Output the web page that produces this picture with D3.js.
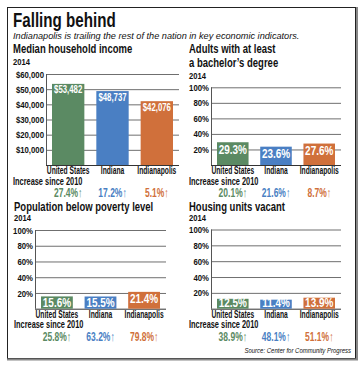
<!DOCTYPE html>
<html>
<head>
<meta charset="utf-8">
<script src="https://cdn.jsdelivr.net/npm/d3@7"></script>
<style>
  body { margin: 0; background: #fff; }
  svg { display: block; font-family: "Liberation Sans", Arial, sans-serif; }
</style>
</head>
<body>
<svg id="chart" width="361" height="366"></svg>
<script>
// data
const categories = ["United States", "Indiana", "Indianapolis"];
const colors = ["#5b8a63", "#4a7fc3", "#d0703b"];

const incomeValues = [53482, 48737, 42076];
const incomeChange = [27.4, 17.2, 5.1];
const degreeValues = [29.3, 23.6, 27.6];
const degreeChange = [20.1, 21.6, 8.7];
const povertyValues = [15.6, 15.5, 21.4];
const povertyChange = [25.8, 63.2, 79.8];
const vacantValues = [12.5, 11.4, 13.9];
const vacantChange = [38.9, 48.1, 51.1];

const incomeTicks = [10000, 20000, 30000, 40000, 50000, 60000];
const pctTicks = [20, 40, 60, 80, 100];

const money = d3.format("$,");
const pct = d => d.toFixed(1) + "%";

// the original uses a condensed face; squeeze the installed one horizontally
function squeeze(sel, k) {
  sel.each(function() {
    const x = +this.getAttribute("x") || 0;
    this.setAttribute("x", 0);
    this.setAttribute("transform", `translate(${x},0) scale(${k},1)`);
  });
  return sel;
}

// layout of the four panels (positions only)
const panels = [
  {title: ["Median household income"], values: incomeValues, change: incomeChange,
   ticks: incomeTicks, max: 60000, tickFmt: money, valFmt: money, valSize: 10, valK: 0.78,
   left: 13, titleY: [53], yearY: 65.5, axisX: 46, gridEnd: 179, yTop: 74, yBase: 165,
   catY: 174.3, incY: 184.8, chgY: 197.5},
  {title: ["Adults with at least", "a bachelor\u2019s degree"], values: degreeValues, change: degreeChange,
   ticks: pctTicks, max: 100, tickFmt: d => d + "%", valFmt: pct, valSize: 12, valK: 0.83,
   left: 189, titleY: [53, 67.5], yearY: 79, axisX: 211, gridEnd: 341, yTop: 87.3, yBase: 165,
   catY: 174.3, incY: 184.8, chgY: 197.5},
  {title: ["Population below poverty level"], values: povertyValues, change: povertyChange,
   ticks: pctTicks, max: 100, tickFmt: d => d + "%", valFmt: pct, valSize: 12, valK: 0.83,
   left: 14, titleY: [211], yearY: 221, axisX: 35, gridEnd: 166, yTop: 230, yBase: 308.7,
   catY: 318, incY: 328.5, chgY: 341},
  {title: ["Housing units vacant"], values: vacantValues, change: vacantChange,
   ticks: pctTicks, max: 100, tickFmt: d => d + "%", valFmt: pct, valSize: 12, valK: 0.83,
   left: 189, titleY: [211], yearY: 221, axisX: 211, gridEnd: 341, yTop: 229.5, yBase: 308.7,
   catY: 318, incY: 328.5, chgY: 341}
];

const svg = d3.select("#chart");

// frame with a grey shadow on the right and bottom
svg.append("rect").attr("x", 7.5).attr("y", 7.5).attr("width", 348).attr("height", 351)
  .attr("fill", "none").attr("stroke", "#222").attr("stroke-width", 1);
svg.append("line").attr("x1", 357).attr("x2", 357).attr("y1", 7).attr("y2", 360)
  .attr("stroke", "#888").attr("stroke-width", 2);
svg.append("line").attr("x1", 7).attr("x2", 358).attr("y1", 359.5).attr("y2", 359.5)
  .attr("stroke", "#888").attr("stroke-width", 2);

squeeze(svg.append("text").attr("x", 13).attr("y", 27)
  .style("font-size", "20.5px").style("font-weight", "bold").attr("fill", "#111")
  .text("Falling behind"), 0.74);
squeeze(svg.append("text").attr("x", 13).attr("y", 39)
  .style("font-size", "9px").style("font-style", "italic").attr("fill", "#111")
  .text("Indianapolis is trailing the rest of the nation in key economic indicators."), 1.02);

panels.forEach(p => {
  const g = svg.append("g");

  p.title.forEach((t, i) => {
    squeeze(g.append("text").attr("x", p.left).attr("y", p.titleY[i])
      .style("font-size", "12.5px").style("font-weight", "bold").attr("fill", "#111")
      .text(t), 0.76);
  });
  squeeze(g.append("text").attr("x", p.left).attr("y", p.yearY)
    .style("font-size", "9.5px").style("font-weight", "bold").attr("fill", "#111")
    .text("2014"), 0.8);

  const y = d3.scaleLinear().domain([0, p.max]).range([p.yBase, p.yTop]);
  const x = d3.scaleBand().domain(categories)
    .range([p.axisX + 6, p.gridEnd - 6]).paddingInner(0.27).paddingOuter(0);

  // gridlines + tick labels
  const axis = g.append("g").attr("transform", `translate(${p.axisX},0)`)
    .call(d3.axisLeft(y).tickValues(p.ticks).tickFormat(p.tickFmt)
      .tickSize(-(p.gridEnd - p.axisX)).tickPadding(2));
  axis.attr("font-family", null).attr("font-size", null);
  axis.select(".domain").remove();
  axis.selectAll(".tick line").attr("stroke", "#6f6f6f");
  squeeze(axis.selectAll(".tick text").attr("fill", "#111")
    .style("font-size", "9.5px").style("font-weight", "bold"), 0.82);

  g.append("line").attr("x1", p.axisX + 0.5).attr("x2", p.axisX + 0.5)
    .attr("y1", p.yTop).attr("y2", p.yBase).attr("stroke", "#555");
  g.append("line").attr("x1", p.axisX).attr("x2", p.gridEnd)
    .attr("y1", p.yBase + 0.5).attr("y2", p.yBase + 0.5).attr("stroke", "#333");

  // bars
  g.selectAll("rect.bar").data(p.values).join("rect")
    .attr("class", "bar")
    .attr("x", (d, i) => x(categories[i]))
    .attr("width", x.bandwidth())
    .attr("y", d => y(d))
    .attr("height", d => p.yBase - y(d))
    .attr("fill", (d, i) => colors[i]);

  squeeze(g.selectAll("text.val").data(p.values).join("text")
    .attr("class", "val")
    .attr("x", (d, i) => x(categories[i]) + x.bandwidth() / 2)
    .attr("y", d => Math.min(y(d) + p.valSize - 0.5, p.yBase - 2))
    .attr("text-anchor", "middle").attr("fill", "#fff")
    .style("font-size", p.valSize + "px").style("font-weight", "bold")
    .text(d => p.valFmt(d)), p.valK);

  squeeze(g.selectAll("text.cat").data(categories).join("text")
    .attr("class", "cat")
    .attr("x", d => x(d) + x.bandwidth() / 2)
    .attr("y", p.catY)
    .attr("text-anchor", "middle").attr("fill", "#111")
    .style("font-size", "10px").style("font-weight", "bold")
    .text(d => d), 0.67);

  squeeze(g.append("text").attr("x", p.left).attr("y", p.incY)
    .style("font-size", "10px").style("font-weight", "bold").attr("fill", "#111")
    .text("Increase since 2010"), 0.74);

  squeeze(g.selectAll("text.chg").data(p.change).join("text")
    .attr("class", "chg")
    .attr("x", (d, i) => x(categories[i]) + x.bandwidth() / 2)
    .attr("y", p.chgY)
    .attr("text-anchor", "middle").attr("fill", (d, i) => colors[i])
    .style("font-size", "12.5px").style("font-weight", "bold")
    .text(d => d.toFixed(1) + "%\u2191"), 0.68);
});

squeeze(svg.append("text").attr("x", 351).attr("y", 353).attr("text-anchor", "end")
  .style("font-size", "7.5px").style("font-style", "italic").attr("fill", "#111")
  .text("Source: Center for Community Progress"), 0.8);
</script>
</body>
</html>
